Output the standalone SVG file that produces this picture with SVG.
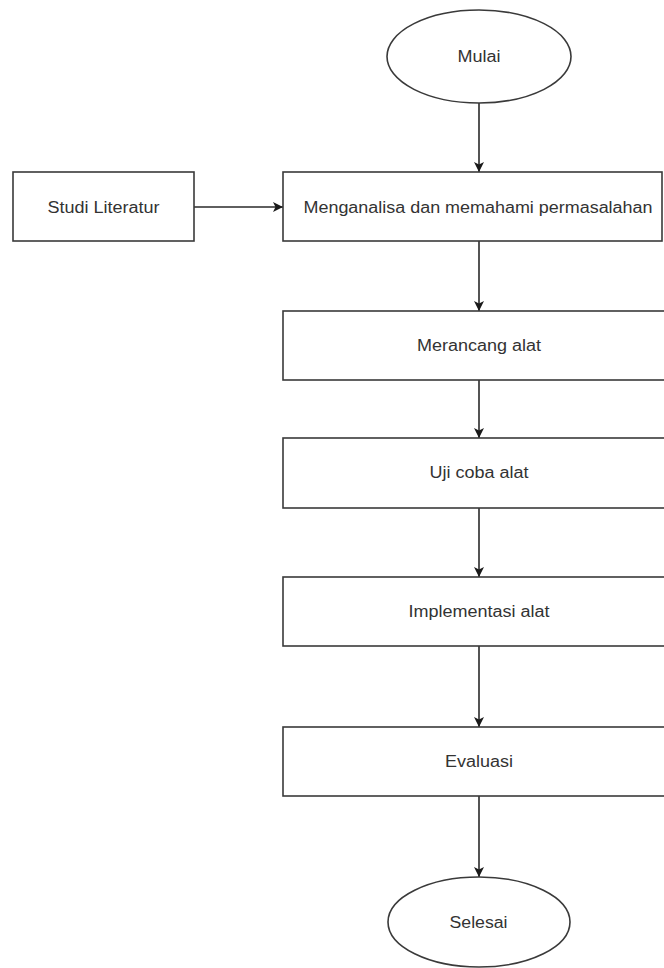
<svg xmlns="http://www.w3.org/2000/svg" width="664" height="968" viewBox="0 0 664 968">
<defs>
<marker id="ah" markerWidth="10" markerHeight="10" viewBox="0 0 10 10" refX="10" refY="5" orient="auto" markerUnits="userSpaceOnUse">
<path d="M0,0 L10,5 L0,10 L2.5,5 Z" fill="#1a1a1a"/>
</marker>
<style>
.n{fill:#fff;stroke:#3a3a3a;stroke-width:1.6}
.t{font-family:"Liberation Sans",Arial,sans-serif;font-size:16px;fill:#333;text-anchor:middle}
.c{stroke:#2a2a2a;stroke-width:1.6;fill:none;marker-end:url(#ah)}
</style>
</defs>
<rect width="664" height="968" fill="#fff"/>
<g id="connectors">
<line class="c" x1="479" y1="103" x2="479" y2="172"/>
<line class="c" x1="194" y1="207" x2="283" y2="207"/>
<line class="c" x1="479" y1="241" x2="479" y2="311"/>
<line class="c" x1="479" y1="380" x2="479" y2="438"/>
<line class="c" x1="479" y1="508" x2="479" y2="577"/>
<line class="c" x1="479" y1="646" x2="479" y2="727"/>
<line class="c" x1="479" y1="796" x2="479" y2="877"/>
</g>
<g id="mulai">
<ellipse class="n" cx="479" cy="56.5" rx="92" ry="46.5"/>
<text class="t" x="479" y="61.5" textLength="43" lengthAdjust="spacingAndGlyphs">Mulai</text>
</g>
<g id="studi">
<rect class="n" x="13" y="172" width="181" height="69"/>
<text class="t" x="103.5" y="212.5" textLength="112" lengthAdjust="spacingAndGlyphs">Studi Literatur</text>
</g>
<g id="menganalisa">
<rect class="n" x="283" y="172" width="379" height="69"/>
<text class="t" x="478" y="212.5" textLength="349" lengthAdjust="spacingAndGlyphs">Menganalisa dan memahami permasalahan</text>
</g>
<g id="merancang">
<rect class="n" x="283" y="311" width="393" height="69"/>
<text class="t" x="479" y="351" textLength="124" lengthAdjust="spacingAndGlyphs">Merancang alat</text>
</g>
<g id="ujicoba">
<rect class="n" x="283" y="438" width="393" height="70"/>
<text class="t" x="479" y="478" textLength="99" lengthAdjust="spacingAndGlyphs">Uji coba alat</text>
</g>
<g id="implementasi">
<rect class="n" x="283" y="577" width="393" height="69"/>
<text class="t" x="479" y="617" textLength="141" lengthAdjust="spacingAndGlyphs">Implementasi alat</text>
</g>
<g id="evaluasi">
<rect class="n" x="283" y="727" width="393" height="69"/>
<text class="t" x="479" y="767" textLength="68" lengthAdjust="spacingAndGlyphs">Evaluasi</text>
</g>
<g id="selesai">
<ellipse class="n" cx="479" cy="922" rx="91" ry="45"/>
<text class="t" x="478.5" y="928" textLength="58" lengthAdjust="spacingAndGlyphs">Selesai</text>
</g>
</svg>
